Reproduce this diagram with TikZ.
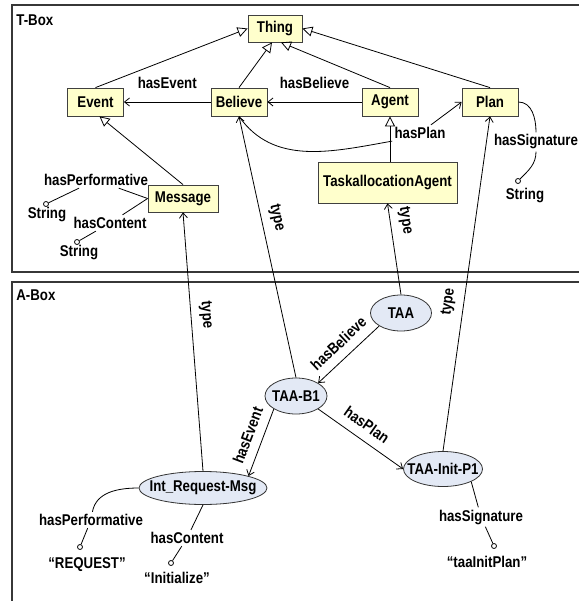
\documentclass[tikz,border=0pt]{standalone}
\usepackage{fontspec}
\setmainfont{Liberation Sans}[FakeStretch=0.85]
\usetikzlibrary{arrows.meta,shapes.geometric,positioning}
\definecolor{clsfill}{RGB}{255,255,204}
\definecolor{indfill}{RGB}{227,233,245}
\definecolor{framegray}{RGB}{55,55,55}
\newcommand{\indname}[1]{\makebox[0pt]{#1}}

\begin{document}
\begin{tikzpicture}[x=1pt,y=-1pt,line width=0.8pt,
  font=\fontsize{15.6pt}{18pt}\selectfont\bfseries,
  cls/.style={draw=black!75, fill=clsfill, inner sep=0pt, minimum width=56pt, minimum height=28pt},
  ind/.style={draw=black!80, fill=indfill, ellipse, inner sep=0pt},
  lbl/.style={inner sep=2pt},
  lift/.style={above, inner sep=1pt, yshift=12pt},
  rel/.style={sloped, above, inner sep=9pt},
  typ/.style={sloped, above, inner sep=8pt},
  dot/.style={circle, draw, fill=white, inner sep=0pt, minimum size=5pt},
  isa/.style={-{Triangle[open,length=10pt,width=10pt]}},
  prop/.style={-{Straight Barb[length=5pt,width=8pt]}}]
\useasboundingbox (0,0) rectangle (578,601);
\draw[framegray, line width=1.3pt] (12,5) rectangle (600,272);
\draw[framegray, line width=1.3pt] (12,282) rectangle (600,620);
\node[anchor=west, inner sep=1pt] (tbox) at (15,20) {T-Box};
\node[anchor=west, inner sep=1pt] (abox) at (15,295) {A-Box};

\node[cls, minimum width=54pt, minimum height=27pt] (thing) at (275,28.5) {Thing};
\node[cls] (event) at (95.5,102) {Event};
\node[cls] (believe) at (239,102) {Believe};
\node[cls] (agent) at (390,102) {Agent};
\node[cls] (plan) at (490,102) {Plan};
\node[cls, minimum width=70pt, minimum height=27pt] (message) at (183,198.5) {Message};
\node[cls, minimum width=139pt, minimum height=41pt] (taskagent) at (387.5,182.5) {TaskallocationAgent};

\draw[isa] (event.north) -- (thing.west);
\draw[isa] (believe.north) -- ([xshift=-3pt]thing.south);
\draw[isa] (agent.north) -- ([xshift=6pt]thing.south);
\draw[isa] (plan.north) -- (thing.east);
\draw[isa] (message.north) -- ([xshift=4pt]event.south);
\draw[isa] (taskagent.north -| agent.south) -- (agent.south);

\draw[prop] (believe) -- node[lift]{hasEvent} (event);
\draw[prop] (agent) -- node[lift]{hasBelieve} (believe);
\node[lbl] (lplan) at (420,133) {hasPlan};
\draw (believe.south) to[out=-55,in=190] (lplan.south west);
\draw[prop] (lplan) -- (plan.west);

\node[lbl] (lsig) at (536,142) {hasSignature};
\node[dot] (dsig) at (518,181) {};
\node[lbl] (ssig) at (525,196) {String};
\draw (plan.east) to[out=0,in=90] (lsig);
\draw (lsig) to[out=-90,in=45] (dsig);

\node[lbl] (lperf) at (96,180) {hasPerformative};
\node[dot] (dperf) at (46,204) {};
\node[lbl] (sperf) at (47,215) {String};
\draw (message.west) -- (lperf) -- (dperf);
\node[lbl] (lcont) at (110,223) {hasContent};
\node[dot] (dcont) at (77,242) {};
\node[lbl] (scont) at (79,253) {String};
\draw (message.west) -- (lcont) -- (dcont);

\node[ind, minimum width=61pt, minimum height=36pt] (taa) at (401,313) {\indname{TAA}};
\node[ind, minimum width=62pt, minimum height=36pt] (taab) at (296,396) {\indname{TAA-B1}};
\node[ind, minimum width=79pt, minimum height=35pt] (init) at (443,469) {\indname{TAA-Init-P1}};
\node[ind, minimum width=128pt, minimum height=33pt] (intmsg) at (203,488) {\indname{Int\_Request-Msg}};

\draw[prop] (taa.north) -- node[typ, pos=0.79]{type} (taskagent.south);
\draw[prop] (taab.north) -- node[typ, pos=0.6]{type} (believe.south);
\draw[prop] (intmsg.north) -- node[typ, pos=0.6]{type} (message.south);
\draw[prop] (init.north) -- node[typ, pos=0.44]{type} (plan.south);

\draw[prop] (taa.south west) -- node[rel, pos=0.5]{hasBelieve} (taab.north east);
\draw[prop] (taab.south east) -- node[rel, pos=0.47]{hasPlan} (init.west);
\draw[prop] (taab.south west) -- node[rel, pos=0.47]{hasEvent} (intmsg.north east);

\node[lbl] (lperfa) at (91,520) {hasPerformative};
\node[dot] (dperfa) at (80,547) {};
\node[lbl] (sreq) at (87,565) {“REQUEST”};
\draw (intmsg.west) to[out=180,in=80] (lperfa);
\draw (lperfa) -- (dperfa);
\node[lbl] (lconta) at (187,538) {hasContent};
\node[dot] (dconta) at (171,563) {};
\node[lbl] (sinit) at (177,578) {“Initialize”};
\draw (intmsg.south) -- (lconta) -- (dconta);
\node[lbl] (lsiga) at (481,517) {hasSignature};
\node[dot] (dsiga) at (494,546) {};
\node[lbl] (staa) at (487,562) {“taaInitPlan”};
\draw (init.south east) -- (lsiga) -- (dsiga);
\end{tikzpicture}
\end{document}
